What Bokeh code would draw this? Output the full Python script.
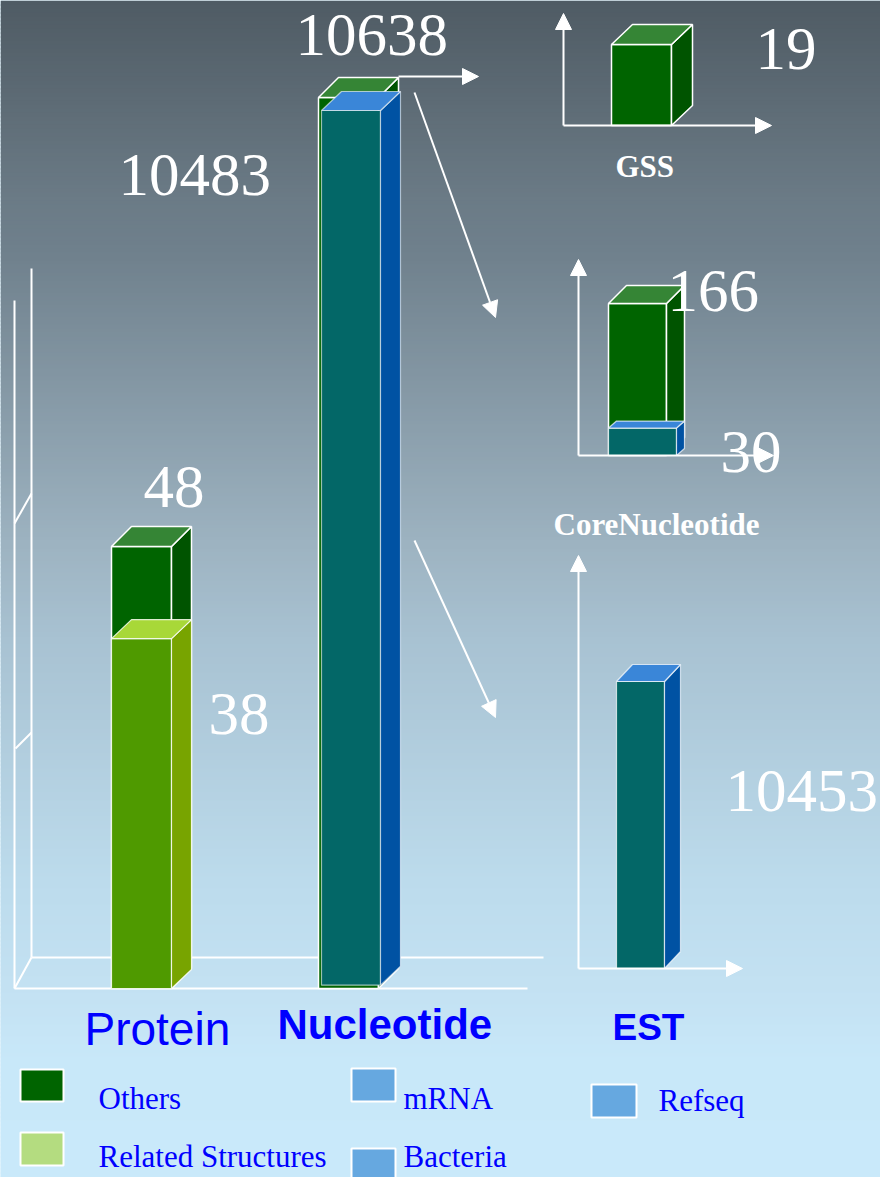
import numpy as np
from bokeh.plotting import figure
from bokeh.models import Range1d, Arrow, NormalHead
from bokeh.core.properties import value
from bokeh.embed import file_html
from bokeh.resources import INLINE

# ---------------- data ----------------
categories = ["Protein", "Nucleotide", "EST"]
sub_panels = ["GSS", "CoreNucleotide"]
protein_related_structures = 38
protein_total = 48
nucleotide_mrna_refseq = 10483
nucleotide_total = 10638
gss_others = 19
core_total = 166
core_mrna = 30
est_refseq = 10453
legend_labels = ["Others", "Related Structures", "mRNA", "Bacteria", "Refseq"]

# ---------------- styles ----------------
GREEN = ("#006400", "#005400", "#358535")
LGREEN = ("#4f9a00", "#78a400", "#a8d838")
TEAL = ("#036767", "#0052a3", "#3a86d8")
WHITE = "#ffffff"
SERIF = value("Liberation Serif")
SANS = value("Liberation Sans")
BL = 0.35  # baseline correction factor (fraction of font size)

W, H = 880, 1177
p = figure(width=W, height=H, x_range=Range1d(0, W), y_range=Range1d(H, 0),
           output_backend="svg", toolbar_location=None, min_border=0,
           x_axis_type=None, y_axis_type=None)
p.grid.visible = False
p.outline_line_color = None
p.background_fill_color = "#c9e9fa"
p.border_fill_color = "#c9e9fa"

# background gradient (style only)
stops_y = [0, 200, 250, 550, 640, 880, 1000, 1060, 1177]
stops_c = [(79, 91, 100), (107, 123, 134), (111, 128, 140), (158, 180, 194),
           (168, 194, 210), (188, 219, 236), (196, 226, 243), (200, 232, 249),
           (201, 233, 250)]
step = 4
ys = np.arange(0, H, step)
cols = []
for yy in ys:
    c = [int(round(np.interp(yy + step / 2, stops_y, [s[i] for s in stops_c]))) for i in range(3)]
    cols.append("#%02x%02x%02x" % tuple(c))
p.quad(left=0, right=W, top=ys, bottom=ys + step + 1, fill_color=cols, line_color=None)

# ---------------- panel scales (value -> screen via extra y ranges) ----------------
panel_base = {"protein": 988, "nucleotide": 988, "gss": 125, "core": 455, "est": 968}
panel_top_px = {"protein": 546, "nucleotide": 97, "gss": 44, "core": 303, "est": 681}
panel_max = {"protein": protein_total, "nucleotide": nucleotide_total, "gss": gss_others,
             "core": core_total, "est": est_refseq}
scale = {}
for name, base in panel_base.items():
    k = (base - panel_top_px[name]) / panel_max[name]
    scale[name] = k
    p.extra_y_ranges[name] = Range1d(start=(base - H) / k, end=base / k)


def box3d(rname, x0, x1, v0, v1, ddx, ddy, colors, lc=WHITE, la=1.0, lw=1.5):
    k = scale[rname]
    dv = ddy / k
    front, side, top = colors
    xs = [[x0, x1, x1, x0], [x1, x1 + ddx, x1 + ddx, x1], [x0, x1, x1 + ddx, x0 + ddx]]
    yv = [[v0, v0, v1, v1], [v0, v0 + dv, v1 + dv, v1], [v1, v1, v1 + dv, v1 + dv]]
    p.patches(xs=xs, ys=yv, fill_color=[front, side, top], line_color=lc,
              line_alpha=la, line_width=lw, y_range_name=rname)


def label(xs, ys, texts, size, font, color, style="normal"):
    p.text(x=xs, y=[y - BL * size for y in ys], text=texts, text_font=font,
           text_font_size="%dpx" % size, text_font_style=style, text_color=color,
           text_baseline="alphabetic", text_align="left")


# ---------------- main chart frame ----------------
frame_xs = [[31, 31], [14, 14], [14, 31], [15, 31], [14, 31], [31, 543], [14, 527]]
frame_ys = [[268, 957], [300, 988], [523, 493], [748, 732], [988, 957], [957, 957], [988, 988]]
p.multi_line(xs=frame_xs, ys=frame_ys, line_color=WHITE, line_width=2)

# Protein stack
box3d("protein", 111, 171, 0, protein_total, 20, 20, GREEN)
box3d("protein", 111, 171, 0, protein_related_structures, 20, 19, LGREEN, la=0.8, lw=1.2)

# Nucleotide stack
box3d("nucleotide", 318, 378, 0, nucleotide_total, 20, 20, GREEN)
box3d("nucleotide", 321, 380, 40, nucleotide_mrna_refseq, 20, 19, TEAL, la=0.6, lw=1.2)

# ---------------- sub panels ----------------
axis_lines = [
    (563, 125, 563, 13), (563, 125, 771, 125),     # GSS
    (578, 455, 578, 259), (578, 455, 773, 455),    # CoreNucleotide
    (578, 968, 578, 555), (578, 968, 742, 968),    # EST
    (398, 76, 478, 76), (414, 92, 495, 317), (414, 540, 495, 717),  # pointers
]
for (xa, ya, xb, yb) in axis_lines:
    p.add_layout(Arrow(x_start=xa, y_start=ya, x_end=xb, y_end=yb, line_color=WHITE,
                       line_width=2,
                       end=NormalHead(size=16, fill_color=WHITE, line_color=WHITE)))

box3d("gss", 611, 671, 0, gss_others, 21, 20, GREEN)
box3d("core", 608, 666, 0, core_total, 18, 18, GREEN)
box3d("core", 608, 676, 0, core_mrna, 8, 7, TEAL, la=0.7, lw=1.2)
box3d("est", 616, 664, 0, est_refseq, 16, 17, TEAL, la=0.7, lw=1.2)

# ---------------- value labels ----------------
val_text = [str(nucleotide_total), str(nucleotide_mrna_refseq), str(protein_total),
            str(protein_related_structures), str(gss_others), str(core_total),
            str(core_mrna), str(est_refseq)]
val_x = [295, 118, 143, 208, 755, 667, 720, 725]
val_y = [56, 196, 508, 735, 70, 312, 473, 812]
label(val_x, val_y, val_text, 61, SERIF, WHITE)

# sub panel names
label([615, 553], [177, 535], sub_panels, 31, SERIF, WHITE, "bold")

# category labels
label([84], [1045], [categories[0]], 46, SANS, "#0000ff")
label([277], [1039], [categories[1]], 42, SANS, "#0000ff", "bold")
label([612], [1040], [categories[2]], 37, SANS, "#0000ff", "bold")

# ---------------- legend ----------------
sw_left = [20, 20, 351, 351, 591]
sw_right = [63, 63, 395, 395, 636]
sw_top = [1069, 1132, 1068, 1148, 1084]
sw_bot = [1101, 1165, 1101, 1185, 1117]
sw_col = ["#006400", "#b4dc80", "#66a8e0", "#66a8e0", "#66a8e0"]
p.quad(left=sw_left, right=sw_right, top=sw_top, bottom=sw_bot, fill_color=sw_col,
       line_color=WHITE, line_width=2)
label([98, 98, 403, 403, 658], [1109, 1167, 1109, 1167, 1111], legend_labels, 31,
      SERIF, "#0000ff")

open("out.html", "w").write(file_html(p, INLINE))
